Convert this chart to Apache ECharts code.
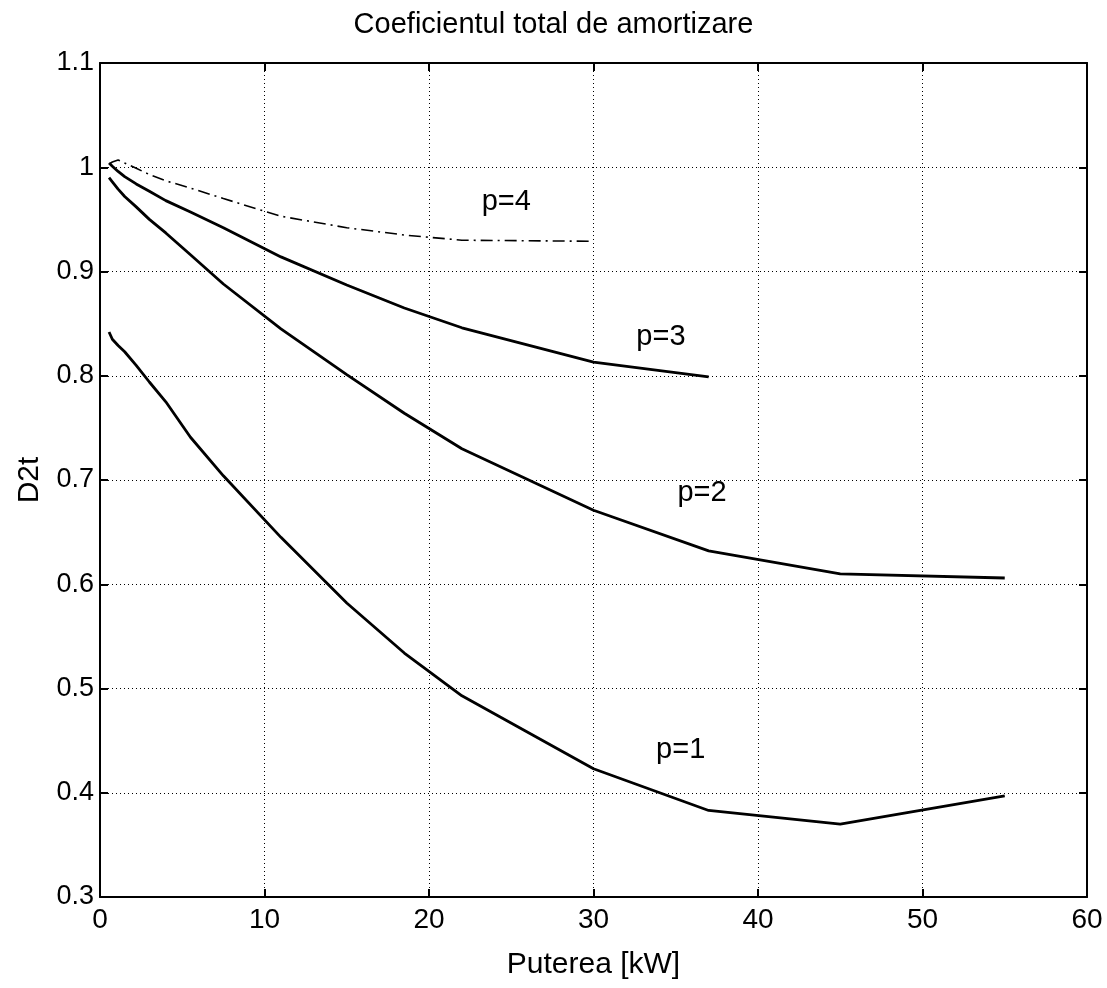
<!DOCTYPE html>
<html>
<head>
<meta charset="utf-8">
<script src="https://cdn.jsdelivr.net/npm/echarts@6/dist/echarts.min.js"></script>
<style>
html,body{margin:0;padding:0;background:#fff;}
#c{width:1107px;height:988px;}
</style>
</head>
<body>
<div id="c"></div>
<script>
// Power ratings (kW)
const power = [0.55, 0.75, 1.1, 1.5, 2.2, 3, 4, 5.5, 7.5, 11, 15, 18.5, 22, 30, 37, 45, 55];
// D2t values for each pole-pair count
const p1 = [0.842, 0.835, 0.829, 0.823, 0.810, 0.794, 0.775, 0.741, 0.704, 0.645, 0.582, 0.534, 0.493, 0.423, 0.383, 0.370, 0.397];
const p2 = [0.990, 0.986, 0.979, 0.972, 0.962, 0.950, 0.937, 0.916, 0.888, 0.845, 0.801, 0.764, 0.730, 0.671, 0.632, 0.610, 0.606];
const p3 = [1.004, 1.001, 0.996, 0.991, 0.984, 0.977, 0.968, 0.957, 0.942, 0.914, 0.887, 0.865, 0.846, 0.813, 0.799];
const p4 = [1.003, 1.005, 1.007, 1.004, 0.999, 0.993, 0.987, 0.980, 0.970, 0.953, 0.942, 0.935, 0.930, 0.929];
const seriesNames = ['p=1', 'p=2', 'p=3', 'p=4'];
// label anchor positions in data units [x, y]
const labelPos = [[35.3, 0.441], [36.6, 0.688], [34.1, 0.837], [24.7, 0.967]];
const xTicks = [0, 10, 20, 30, 40, 50, 60];
const yTicks = [0.3, 0.4, 0.5, 0.6, 0.7, 0.8, 0.9, 1, 1.1];

const FONT = 'Liberation Sans, Arial, sans-serif';
function pairs(vals) { return vals.map((v, i) => [power[i], v]); }

const allVals = [p1, p2, p3, p4];
const series = allVals.map((vals, k) => ({
  name: seriesNames[k],
  type: 'line',
  data: pairs(vals),
  showSymbol: false,
  symbol: 'none',
  smooth: false,
  z: 5,
  lineStyle: k === 3
    ? { color: '#000', width: 1.6, type: [12, 5, 2, 5] }
    : { color: '#000', width: 2.8 },
  markPoint: {
    symbol: 'circle', symbolSize: 0,
    data: [{ coord: labelPos[k] }],
    label: {
      show: true, formatter: seriesNames[k], color: '#000',
      fontFamily: FONT, fontSize: 29, position: 'inside'
    }
  }
}));

const chart = echarts.init(document.getElementById('c'), null, { renderer: 'canvas' });
const axisLine = { show: true, onZero: false, lineStyle: { color: '#000', width: 2 } };
const tick = { show: true, inside: true, length: 8, lineStyle: { color: '#000', width: 2 } };
chart.setOption({
  animation: false,
  backgroundColor: '#fff',
  title: {
    text: 'Coeficientul total de amortizare',
    left: 'center', top: 5,
    textStyle: { fontFamily: FONT, fontSize: 29, fontWeight: 'normal', color: '#000' }
  },
  grid: { left: 100, right: 20, top: 63, bottom: 91, containLabel: false },
  xAxis: [{
    type: 'value', min: 0, max: 60, interval: 10, position: 'bottom',
    name: 'Puterea [kW]', nameLocation: 'middle', nameGap: 53,
    nameTextStyle: { fontFamily: FONT, fontSize: 30, color: '#000' },
    axisLine: axisLine, axisTick: tick,
    axisLabel: { fontFamily: FONT, fontSize: 28, color: '#000', margin: 9,
      formatter: v => xTicks.includes(v) ? String(v) : '' },
    splitLine: { show: true, lineStyle: { color: '#000', width: 1, type: [1, 3] } }
  }, {
    type: 'value', min: 0, max: 60, interval: 10, position: 'top',
    axisLine: axisLine, axisTick: tick, axisLabel: { show: false }, splitLine: { show: false }
  }],
  yAxis: [{
    type: 'value', min: 0.3, max: 1.1, interval: 0.1, position: 'left',
    name: 'D2t', nameLocation: 'middle', nameGap: 55, nameRotate: 90,
    nameTextStyle: { fontFamily: FONT, fontSize: 30, color: '#000' },
    axisLine: axisLine, axisTick: tick,
    axisLabel: { fontFamily: FONT, fontSize: 27, color: '#000', margin: 6,
      formatter: v => { const r = Math.round(v * 10) / 10; return yTicks.includes(r) ? String(r) : ''; } },
    splitLine: { show: true, lineStyle: { color: '#000', width: 1, type: [1, 3] } }
  }, {
    type: 'value', min: 0.3, max: 1.1, interval: 0.1, position: 'right',
    axisLine: axisLine, axisTick: tick, axisLabel: { show: false }, splitLine: { show: false }
  }],
  series: series
});
</script>
</body>
</html>
